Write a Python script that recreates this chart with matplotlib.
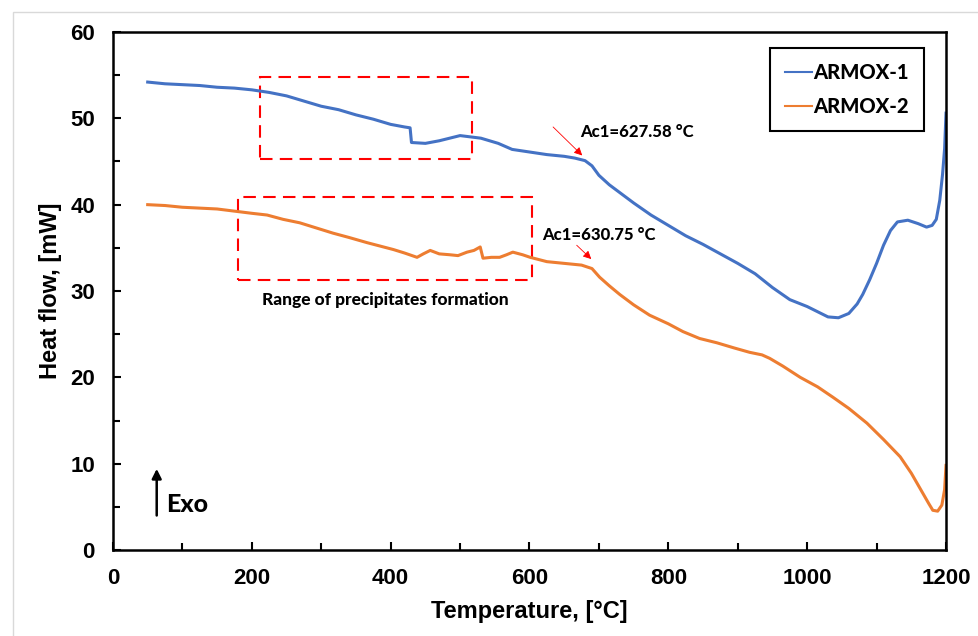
import matplotlib
matplotlib.use("Agg")
import matplotlib.pyplot as plt
from matplotlib.patches import Rectangle
from matplotlib.ticker import MultipleLocator

plt.rcParams["font.family"] = ["Liberation Sans", "DejaVu Sans"]
plt.rcParams["font.weight"] = "bold"
plt.rcParams["axes.labelweight"] = "bold"

# ARMOX-1 (blue)
temp_1 = [50, 75, 100, 125, 150, 175, 200, 225, 250, 275, 300, 325, 350, 375, 400,
          420, 428, 430, 450, 470, 500, 530, 555, 575, 600, 625, 650, 665, 680, 690,
          700, 715, 730, 750, 775, 800, 825, 850, 875, 900, 925, 950, 975, 1000,
          1015, 1030, 1045, 1060, 1072, 1080, 1090, 1100, 1110, 1120, 1130, 1145,
          1160, 1172, 1180, 1186, 1191, 1195, 1198, 1200]
heat_1 = [54.2, 54.0, 53.9, 53.8, 53.6, 53.5, 53.3, 53.0, 52.6, 52.0, 51.4, 51.0, 50.4,
          49.9, 49.3, 49.0, 48.9, 47.2, 47.1, 47.4, 48.0, 47.7, 47.1, 46.4, 46.1, 45.8,
          45.6, 45.4, 45.1, 44.5, 43.4, 42.3, 41.4, 40.2, 38.8, 37.6, 36.4, 35.4, 34.3,
          33.2, 32.0, 30.4, 29.0, 28.2, 27.6, 27.0, 26.9, 27.4, 28.5, 29.6, 31.3, 33.2,
          35.3, 37.0, 38.0, 38.2, 37.8, 37.4, 37.6, 38.3, 40.5, 43.5, 46.5, 50.6]

# ARMOX-2 (orange)
temp_2 = [50, 75, 100, 125, 150, 180, 200, 222, 245, 269, 293, 317, 340, 366, 385,
          404, 420, 438, 447, 457, 470, 485, 497, 510, 520, 529, 533, 545, 557, 567,
          576, 590, 601, 625, 650, 675, 690, 701, 715, 730, 750, 773, 800, 821, 845,
          870, 895, 917, 935, 946, 965, 990, 1015, 1037, 1060, 1086, 1110, 1134,
          1150, 1165, 1175, 1181, 1188, 1194, 1198, 1200]
heat_2 = [40.0, 39.9, 39.7, 39.6, 39.5, 39.2, 39.0, 38.8, 38.3, 37.9, 37.3, 36.7, 36.2,
          35.6, 35.2, 34.8, 34.4, 33.9, 34.3, 34.7, 34.3, 34.2, 34.1, 34.5, 34.7, 35.1,
          33.8, 33.9, 33.9, 34.2, 34.5, 34.2, 33.9, 33.4, 33.2, 33.0, 32.6, 31.6, 30.6,
          29.6, 28.4, 27.2, 26.2, 25.3, 24.5, 24.0, 23.4, 22.9, 22.6, 22.2, 21.3, 20.0,
          18.9, 17.7, 16.4, 14.7, 12.8, 10.8, 8.9, 6.8, 5.4, 4.6, 4.5, 5.2, 7.0, 9.8]

labels = ["ARMOX-1", "ARMOX-2"]
colors = ["#4472C4", "#ED7D31"]

# precipitate windows (temperature range, heat flow range)
box_1 = (212, 517, 45.3, 54.8)
box_2 = (180, 604, 31.3, 40.9)

note_font = ["Lato", "DejaVu Sans"]
note_weight = 900

fig = plt.figure(figsize=(9.79, 6.36), dpi=100)
ax = fig.add_axes([0.1154, 0.1352, 0.8509, 0.8145])

ax.plot(temp_1, heat_1, color=colors[0], lw=2.2, label=labels[0])
ax.plot(temp_2, heat_2, color=colors[1], lw=2.2, label=labels[1])

for x0, x1, y0, y1 in [box_1, box_2]:
    ax.add_patch(Rectangle((x0, y0), x1 - x0, y1 - y0, fill=False, ec="red",
                           lw=1.5, ls=(0, (6, 3.5))))

ax.text(392, 28.9, "Range of precipitates formation", fontfamily=note_font,
        fontweight=note_weight, fontsize=12.5, ha="center", va="center")

ax.annotate("", xy=(676, 45.7), xytext=(634, 49.0),
            arrowprops=dict(arrowstyle="-|>", color="red", lw=0.6,
                            mutation_scale=12, shrinkA=0, shrinkB=0))
ax.text(673, 48.4, "Ac1=627.58 °C", fontfamily=note_font, fontweight=note_weight,
        fontsize=12, ha="left", va="center")

ax.annotate("", xy=(689, 33.7), xytext=(668, 35.3),
            arrowprops=dict(arrowstyle="-|>", color="red", lw=0.6,
                            mutation_scale=12, shrinkA=0, shrinkB=0))
ax.text(618, 36.5, "Ac1=630.75 °C", fontfamily=note_font, fontweight=note_weight,
        fontsize=12, ha="left", va="center")

# Exo arrow
ax.annotate("", xy=(63, 9.4), xytext=(63, 4.0),
            arrowprops=dict(arrowstyle="-|>", color="black", lw=1.8,
                            mutation_scale=14, shrinkA=0, shrinkB=0))
ax.text(76, 5.3, "Exo", fontfamily=note_font, fontweight=note_weight,
        fontsize=18, ha="left", va="center")

ax.set_xlim(0, 1200)
ax.set_ylim(0, 60)
ax.xaxis.set_major_locator(MultipleLocator(200))
ax.xaxis.set_minor_locator(MultipleLocator(100))
ax.yaxis.set_major_locator(MultipleLocator(10))
ax.yaxis.set_minor_locator(MultipleLocator(5))
ax.tick_params(which="both", direction="in", width=1.5, pad=13,
               labelsize=16)
ax.tick_params(which="major", length=6)
ax.tick_params(which="minor", length=5)
for sp in ax.spines.values():
    sp.set_linewidth(1.8)

ax.set_xlabel("Temperature, [°C]", fontsize=17, fontweight="bold", labelpad=8)
ax.set_ylabel("Heat flow, [mW]", fontsize=17, fontweight="bold", labelpad=6)

leg = ax.legend(loc="upper right", bbox_to_anchor=(0.974, 0.969),
                borderaxespad=0,
                prop=dict(family=note_font, weight=note_weight, size=14.5),
                handlelength=1.3, handletextpad=0.1, labelspacing=0.75,
                borderpad=0.75, fancybox=False, edgecolor="black",
                framealpha=1)
leg.get_frame().set_linewidth(1.5)
for line in leg.get_lines():
    line.set_linewidth(1.5)

# light chart-area border like the source
fig.patches.append(Rectangle((13 / 979, -0.01), 1.0, (636 - 12) / 636 + 0.01,
                             transform=fig.transFigure, fill=False,
                             ec="#D9D9D9", lw=1))

fig.savefig("out.png", dpi=100)
